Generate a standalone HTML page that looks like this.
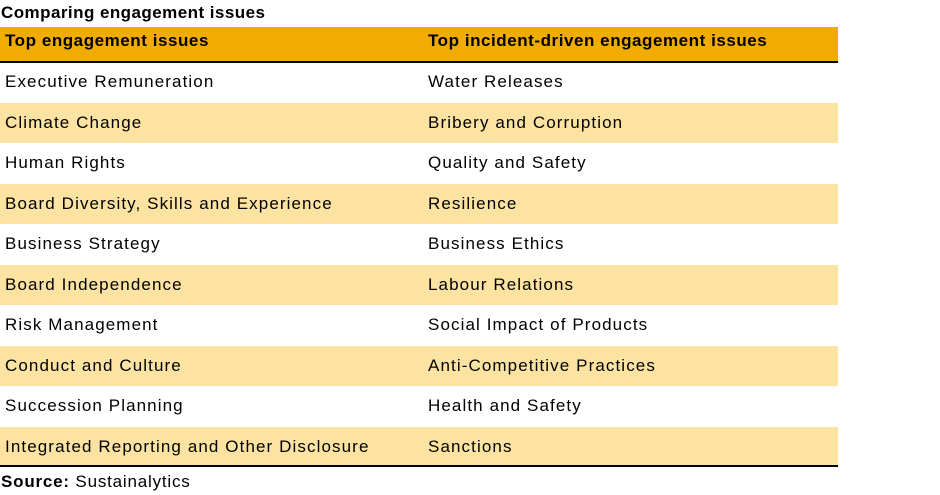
<!DOCTYPE html>
<html><head><meta charset="utf-8"><style>
body{margin:0;width:940px;height:495px;background:#fff;position:relative;overflow:hidden;font-family:"Liberation Sans",sans-serif;color:#000}
.t{position:absolute;left:1px;top:3px;font-size:17px;font-weight:bold;white-space:nowrap;letter-spacing:0.45px}
.hdr{position:absolute;left:0;top:27px;width:838px;height:34px;background:#f0ac00;border-bottom:2px solid #000}
.row{position:absolute;left:0;width:838px;height:40.5px}
.c{position:absolute;top:0;line-height:40px;font-size:17px;white-space:nowrap;letter-spacing:1.1px}
.hdr .c{line-height:28px;font-weight:bold;letter-spacing:0.55px}
.y{background:#fde3a2}
.bl{position:absolute;left:0;top:465px;width:838px;height:2px;background:#000}
.src{position:absolute;left:1px;top:472px;font-size:17px;white-space:nowrap;letter-spacing:0.8px}
</style></head><body>
<div class="t">Comparing engagement issues</div>
<div class="hdr">
<div class="c" style="left:5px">Top engagement issues</div>
<div class="c" style="left:428px">Top incident-driven engagement issues</div>
</div>
<div id="rows"></div>
<div class="bl"></div>
<div class="src"><b>Source:</b> Sustainalytics</div>
<script>
const leftIssues=["Executive Remuneration","Climate Change","Human Rights","Board Diversity, Skills and Experience","Business Strategy","Board Independence","Risk Management","Conduct and Culture","Succession Planning","Integrated Reporting and Other Disclosure"];
const rightIssues=["Water Releases","Bribery and Corruption","Quality and Safety","Resilience","Business Ethics","Labour Relations","Social Impact of Products","Anti-Competitive Practices","Health and Safety","Sanctions"];
const host=document.getElementById('rows');
leftIssues.forEach((l,i)=>{
  const r=document.createElement('div');
  r.className='row'+(i%2?' y':'');
  r.style.top=(62+i*40.5)+'px';
  
  
  const a=document.createElement('div');a.className='c';a.style.left='5px';a.textContent=l;
  
  
  const b=document.createElement('div');b.className='c';b.style.left='428px';b.textContent=rightIssues[i];
  
  
  r.appendChild(a);r.appendChild(b);host.appendChild(r);
});
</script>
</body></html>
